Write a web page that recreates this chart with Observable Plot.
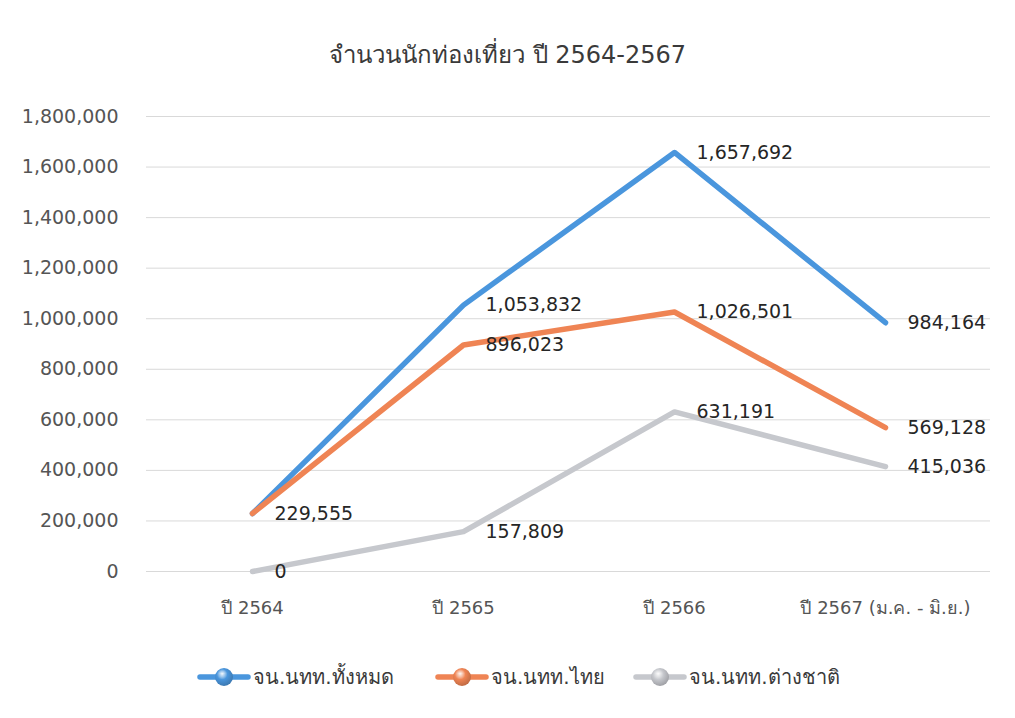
<!DOCTYPE html>
<html>
<head>
<meta charset="utf-8">
<script src="https://cdn.jsdelivr.net/npm/d3@7"></script>
<script src="https://cdn.jsdelivr.net/npm/@observablehq/plot@0.6"></script>
<style>
  html, body { margin: 0; padding: 0; background: #ffffff; }
  #wrap { position: relative; width: 1015px; height: 718px; overflow: hidden; font-family: "DejaVu Sans", "Noto Sans", sans-serif; }
  #title { position: absolute; left: 0; top: 39px; width: 1015px; text-align: center; font-size: 24px; line-height: 32px; color: #3a3a3a; }
  #chart { position: absolute; left: 0; top: 90px; }
  .leg { position: absolute; top: 664px; height: 26px; display: flex; align-items: center; font-size: 20px; color: #3a3a3a; }
  .leg svg { margin-right: 2px; }
</style>
</head>
<body>
<div id="wrap">
  <div id="title">จำนวนนักท่องเที่ยว ปี 2564-2567</div>
  <div id="chart"></div>
  <div id="legend"></div>
</div>
<script>
const categories = ["ปี 2564", "ปี 2565", "ปี 2566", "ปี 2567 (ม.ค. - มิ.ย.)"];
const seriesNames = ["จน.นทท.ทั้งหมด", "จน.นทท.ไทย", "จน.นทท.ต่างชาติ"];
const totalValues = [229555, 1053832, 1657692, 984164];
const thaiValues = [229555, 896023, 1026501, 569128];
const foreignValues = [0, 157809, 631191, 415036];
const yTicks = [0, 200000, 400000, 600000, 800000, 1000000, 1200000, 1400000, 1600000, 1800000];
const seriesColors = ["#4a96dd", "#ef8454", "#c6c8cd"];

const seriesValues = [totalValues, thaiValues, foreignValues];
const data = [];
seriesNames.forEach((s, i) => {
  categories.forEach((c, j) => data.push({series: s, cat: c, value: seriesValues[i][j]}));
});
// one label per distinct position (overlapping points share a label)
const seen = new Set();
const labels = data.filter(d => {
  const k = d.cat + "|" + d.value;
  if (seen.has(k)) return false;
  seen.add(k);
  return true;
});

const fmt = d3.format(",");
const chart = Plot.plot({
  width: 1015,
  height: 550,
  marginLeft: 146,
  marginRight: 25,
  marginTop: 26,
  marginBottom: 69,
  style: {fontFamily: '"DejaVu Sans", "Noto Sans", sans-serif', fontSize: "19px", color: "#595959", background: "transparent"},
  x: {type: "point", domain: categories, padding: 0.5, label: null},
  y: {domain: [0, 1800000], ticks: yTicks, label: null},
  color: {domain: seriesNames, range: seriesColors},
  marks: [
    Plot.gridY(yTicks, {stroke: "#d9d9d9", strokeOpacity: 1, strokeWidth: 1}),
    Plot.axisY(yTicks, {tickSize: 0, tickPadding: 28, tickFormat: fmt, fill: "#555555", fontSize: 19}),
    Plot.axisX({tickSize: 0, tickPadding: 30, fill: "#555555", fontSize: 18}),
    Plot.line(data, {x: "cat", y: "value", z: "series", stroke: "series", strokeWidth: 5.5, strokeLinecap: "round", strokeLinejoin: "round"}),
    Plot.text(labels, {x: "cat", y: "value", text: d => fmt(d.value), textAnchor: "start", dx: 22, fill: "#262626", fontSize: 19})
  ]
});
document.getElementById("chart").appendChild(chart);

const legendLefts = [197, 435, 633];
const legend = document.getElementById("legend");
seriesNames.forEach((s, i) => {
  const item = document.createElement("div");
  item.className = "leg";
  item.style.left = legendLefts[i] + "px";
  const c = seriesColors[i];
  item.innerHTML = `<svg width="54" height="26"><defs><radialGradient id="g${i}" cx="40%" cy="35%" r="65%"><stop offset="0%" stop-color="#ffffff" stop-opacity="0.8"/><stop offset="45%" stop-color="${c}"/><stop offset="100%" stop-color="${d3.color(c).darker(0.6)}"/></radialGradient></defs><line x1="3" y1="13" x2="51" y2="13" stroke="${c}" stroke-width="5.5" stroke-linecap="round"/><circle cx="27" cy="13" r="9" fill="url(#g${i})"/></svg><span>${s}</span>`;
  legend.appendChild(item);
});
</script>
</body>
</html>
